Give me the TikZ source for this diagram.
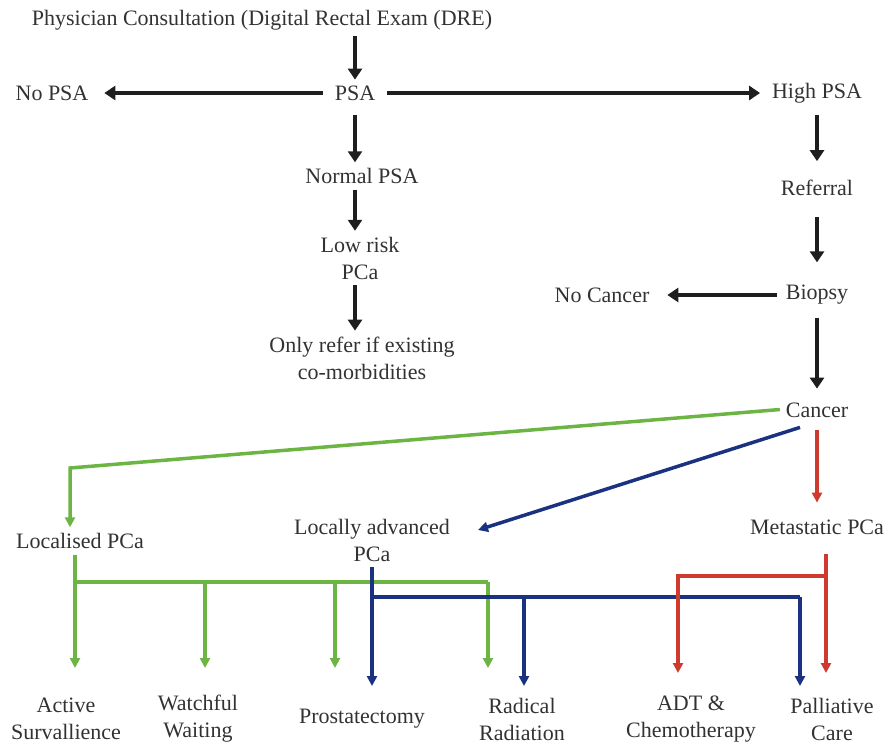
\documentclass[tikz,border=0pt]{standalone}
\usepackage{fontspec}
\setmainfont{Liberation Serif}
\usetikzlibrary{arrows.meta}
\definecolor{gr}{RGB}{108,180,68}
\definecolor{bl}{RGB}{26,50,128}
\definecolor{rd}{RGB}{206,58,46}
\definecolor{tx}{RGB}{50,50,50}
\definecolor{ar}{RGB}{30,30,30}
\begin{document}
\begin{tikzpicture}[x=1pt,y=-1pt,
  lbl/.style={text=tx, font=\fontsize{22}{27}\selectfont, align=center, inner sep=0pt, outer xsep=12pt, outer ysep=6pt},
  blk/.style={line width=4pt, draw=ar, -{Triangle[length=11pt,width=14pt]}},
  grn/.style={line width=3.5pt, draw=gr, -{Triangle[length=10pt,width=10pt]}},
  blu/.style={line width=3.5pt, draw=bl, -{Triangle[length=10pt,width=10pt]}},
  rdd/.style={line width=3.5pt, draw=rd, -{Triangle[length=10pt,width=10pt]}},
  grl/.style={line width=3.5pt, draw=gr},
  bll/.style={line width=3.5pt, draw=bl}]
\useasboundingbox (0,0) rectangle (886,745);
% nodes
\node[lbl] (phys) at (262,20) {Physician Consultation (Digital Rectal Exam (DRE)};
\node[lbl] (psa) at (355,93) {PSA};
\node[lbl] (nopsa) at (52,93) {No PSA};
\node[lbl] (high) at (817,93) {High PSA};
\node[lbl] (normal) at (362,176) {Normal PSA};
\node[lbl] (low) at (360,258) {Low risk\\PCa};
\node[lbl] (only) at (362,358) {Only refer if existing\\co-morbidities};
\node[lbl] (ref) at (817,188) {Referral};
\node[lbl] (bio) at (817,295) {Biopsy};
\node[lbl] (noc) at (602,295) {No Cancer};
\node[lbl] (can) at (817,410) {Cancer};
\node[lbl] (loc) at (80,541) {Localised PCa};
\node[lbl] (adv) at (372,540) {Locally advanced\\PCa};
\node[lbl] (met) at (817,527) {Metastatic PCa};
\node[lbl] (act) at (66,719) {Active\\Survallience};
\node[lbl] (wat) at (198,719) {Watchful\\Waiting};
\node[lbl] (pro) at (362,719) {Prostatectomy};
\node[lbl] (rad) at (522,719) {Radical\\Radiation};
\node[lbl] (adt) at (691,719) {ADT \&\\Chemotherapy};
\node[lbl] (pal) at (832,719) {Palliative\\Care};
% black flow
\draw[blk] (phys.south -| psa) -- (psa);
\draw[blk, shorten >=4pt] (psa) -- (nopsa);
\draw[blk] (psa) -- (high);
\draw[blk, shorten <=9pt] (psa) -- (psa |- normal.north);
\draw[blk] (normal.south -| psa) -- (psa |- low.north);
\draw[blk] (low.south -| psa) -- (psa |- only.north);
\draw[blk, shorten <=6pt, shorten >=13pt] (high) -- (ref);
\draw[blk, shorten <=15pt, shorten >=17pt] (ref) -- (bio);
\draw[blk, shorten <=-3pt, shorten >=6pt] (bio) -- (noc);
\draw[blk, shorten <=7pt, shorten >=8pt] (bio) -- (can);
% cancer branches
\coordinate (gk) at (70,468);
\draw[grn, shorten <=-6pt] (can.west) -- (gk) -- (loc.north -| gk);
\coordinate (bst) at ([xshift=-17pt,yshift=-4pt]can.south);
\coordinate (advin) at (478,530);
\draw[blu] (bst) -- (advin);
\draw[rdd, shorten <=7pt, shorten >=11pt] (can) -- (met);
% green tree
\coordinate (g0) at (75,582);
\coordinate (g3) at (488,582);
\draw[grl] (loc.south -| g0) -- (g0) -- (g3);
\foreach \x/\n in {75/a,205/b,335/c,488/d}{
  \coordinate (gs\n) at (\x,582);
  \coordinate (ge\n) at (\x,668);
  \draw[grn] (gs\n) -- (ge\n);
}
% blue tree
\coordinate (b0) at (372,597);
\coordinate (b1) at (524,597);
\coordinate (b2) at (800,597);
\coordinate (be1) at (372,686);
\coordinate (be2) at (524,686);
\coordinate (be3) at (800,686);
\draw[blu] (adv.south) -- (be1);
\draw[bll] (b0) -- (b2);
\draw[blu] (b1) -- (be2);
\draw[blu] (b2) -- (be3);
% red tree
\coordinate (r0) at (826,576);
\coordinate (r1) at (678,576);
\coordinate (re1) at (678,673);
\coordinate (re2) at (826,673);
\draw[rdd, shorten <=14pt] (met.south -| r0) -- (re2);
\draw[rdd] (r0) -- (r1) -- (re1);
\end{tikzpicture}
\end{document}
